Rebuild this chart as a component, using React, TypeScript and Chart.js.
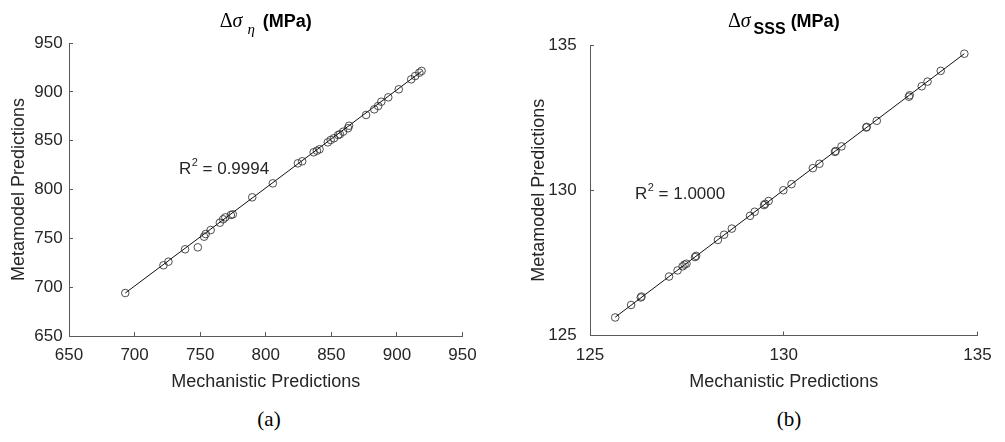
import React, { useEffect, useRef } from "react";
import { Chart, registerables } from "chart.js";

Chart.register(...registerables);

// ---------- data: (a) Δσ_η ----------
const etaMechanistic = [
  692.9, 722.0, 725.8, 738.5, 748.2, 753.0, 754.2, 758.0, 765.0, 767.5, 769.2, 773.4, 774.9,
  789.7, 805.4, 824.5, 827.8, 836.5, 839.0, 841.0, 847.3, 849.5, 852.0, 855.2, 856.5, 859.0,
  862.7, 863.5, 876.5, 882.7, 885.7, 888.1, 893.4, 901.4, 910.9, 913.9, 917.1, 918.8,
];
const etaMetamodel = [
  694.0, 722.4, 726.1, 738.8, 740.8, 751.7, 754.4, 758.5, 766.0, 769.5, 771.5, 773.9, 774.6,
  792.0, 806.3, 826.8, 828.9, 838.1, 839.7, 841.2, 848.3, 850.7, 852.5, 855.8, 856.5, 859.2,
  862.7, 865.3, 876.3, 882.1, 885.5, 889.9, 894.4, 902.6, 912.8, 916.2, 919.6, 921.4,
];
const etaFitX = [692.9, 918.8];
const etaFitY = [694.0, 921.0];
const etaTicks = [650, 700, 750, 800, 850, 900, 950];
const etaR2 = "0.9994";

// ---------- data: (b) Δσ_SSS ----------
const sssMechanistic = [
  125.65, 126.06, 126.31, 126.33, 127.04, 127.26, 127.39, 127.44, 127.49, 127.71, 127.74,
  128.30, 128.46, 128.66, 129.13, 129.25, 129.49, 129.52, 129.61, 129.99, 130.20, 130.75,
  130.92, 131.32, 131.34, 131.49, 132.13, 132.14, 132.40, 133.23, 133.25, 133.56, 133.71,
  134.05, 134.66,
];
const sssMetamodel = [
  125.62, 126.05, 126.31, 126.34, 127.03, 127.24, 127.38, 127.44, 127.47, 127.70, 127.74,
  128.29, 128.47, 128.68, 129.12, 129.26, 129.49, 129.53, 129.63, 130.00, 130.21, 130.76,
  130.91, 131.32, 131.35, 131.51, 132.16, 132.18, 132.39, 133.22, 133.27, 133.58, 133.74,
  134.11, 134.70,
];
const sssFitX = [125.65, 134.66];
const sssFitY = [125.63, 134.70];
const sssTicks = [125, 130, 135];
const sssR2 = "1.0000";

const SANS = '"Liberation Sans", Arial, sans-serif';
const SERIF = '"Liberation Serif", "Times New Roman", serif';
const AXIS = "#5a5a5a";
const TEXT = "#262626";

type Part = { text: string; font: string; dy?: number; gap?: number };

const richTextPlugin = {
  id: "richText",
  afterDraw(chart: any, _args: any, opts: any) {
    const ctx = chart.ctx as CanvasRenderingContext2D;
    const ca = chart.chartArea;
    ctx.save();
    // title
    const parts: Part[] = opts.title || [];
    let total = 0;
    const widths = parts.map((p) => {
      ctx.font = p.font;
      const w = ctx.measureText(p.text).width + (p.gap || 0);
      total += w;
      return w;
    });
    let x = (ca.left + ca.right) / 2 - total / 2;
    ctx.fillStyle = "#000";
    ctx.textBaseline = "alphabetic";
    ctx.textAlign = "left";
    parts.forEach((p, i) => {
      ctx.font = p.font;
      ctx.fillText(p.text, x, opts.titleBaseline + (p.dy || 0));
      x += widths[i];
    });
    // R^2 annotation
    if (opts.r2) {
      const px = chart.scales.x.getPixelForValue(opts.r2.x);
      const py = chart.scales.y.getPixelForValue(opts.r2.y);
      ctx.fillStyle = TEXT;
      ctx.textBaseline = "alphabetic";
      const base = py + 6;
      ctx.font = `17px ${SANS}`;
      ctx.fillText("R", px, base);
      let cx = px + ctx.measureText("R").width;
      ctx.font = `11px ${SANS}`;
      ctx.fillText("2", cx + 0.5, base - 8);
      cx += ctx.measureText("2").width + 0.5;
      ctx.font = `17px ${SANS}`;
      ctx.fillText(" = " + opts.r2.text, cx, base);
    }
    ctx.restore();
  },
};

function makeConfig(p: {
  mech: number[];
  meta: number[];
  fitX: number[];
  fitY: number[];
  ticks: number[];
  padTop: number;
  padRight: number;
  yWidth: number;
  xHeight: number;
  yTitlePad: number;
  yTickPad: number;
  title: Part[];
  r2: { x: number; y: number; text: string };
}) {
  const min = p.ticks[0];
  const max = p.ticks[p.ticks.length - 1];
  const tickFont = { family: SANS, size: 17 };
  const titleFont = { family: SANS, size: 18 };
  return {
    type: "scatter" as const,
    data: {
      datasets: [
        {
          data: p.mech.map((v, i) => ({ x: v, y: p.meta[i] })),
          showLine: false,
          pointStyle: "circle",
          pointRadius: 3.8,
          pointBorderWidth: 0.9,
          pointBorderColor: "#3a3a3a",
          pointBackgroundColor: "rgba(0,0,0,0)",
          order: 2,
        },
        {
          data: p.fitX.map((v, i) => ({ x: v, y: p.fitY[i] })),
          showLine: true,
          borderColor: "#111",
          borderWidth: 1,
          pointRadius: 0,
          order: 1,
        },
      ],
    },
    options: {
      animation: false,
      responsive: false,
      events: [],
      layout: { padding: { top: p.padTop, right: p.padRight, left: 0, bottom: 0 } },
      plugins: {
        legend: { display: false },
        tooltip: { enabled: false },
        richText: { title: p.title, titleBaseline: 27, r2: p.r2 },
      },
      scales: {
        x: {
          type: "linear",
          min,
          max,
          afterBuildTicks: (s: any) => {
            s.ticks = p.ticks.map((v) => ({ value: v }));
          },
          afterFit: (s: any) => {
            s.height = p.xHeight;
          },
          grid: { drawOnChartArea: false, drawTicks: true, tickLength: -4, color: AXIS, lineWidth: 1 },
          border: { display: true, color: AXIS, width: 1 },
          ticks: { color: TEXT, font: tickFont, padding: 13.3, maxRotation: 0, autoSkip: false },
          title: {
            display: true,
            text: "Mechanistic Predictions",
            color: TEXT,
            font: titleFont,
            padding: { top: 0, bottom: 7.5 },
          },
        },
        y: {
          type: "linear",
          min,
          max,
          afterBuildTicks: (s: any) => {
            s.ticks = p.ticks.map((v) => ({ value: v }));
          },
          afterFit: (s: any) => {
            s.width = p.yWidth;
          },
          grid: { drawOnChartArea: false, drawTicks: true, tickLength: -4, color: AXIS, lineWidth: 1 },
          border: { display: true, color: AXIS, width: 1 },
          ticks: { color: TEXT, font: tickFont, padding: p.yTickPad, autoSkip: false },
          title: {
            display: true,
            text: "Metamodel Predictions",
            color: TEXT,
            font: titleFont,
            padding: { top: p.yTitlePad, bottom: 0 },
          },
        },
      },
    },
    plugins: [richTextPlugin],
  };
}

function Plot({ cfg, left, width }: { cfg: any; left: number; width: number }) {
  const ref = useRef<HTMLCanvasElement>(null);
  useEffect(() => {
    if (!ref.current) return;
    const chart = new Chart(ref.current, cfg);
    return () => chart.destroy();
  }, [cfg]);
  return (
    <canvas
      ref={ref}
      width={width}
      height={400}
      style={{ position: "absolute", left, top: 0, width, height: 400 }}
    />
  );
}

const leftCfg = makeConfig({
  mech: etaMechanistic,
  meta: etaMetamodel,
  fitX: etaFitX,
  fitY: etaFitY,
  ticks: etaTicks,
  padTop: 43,
  padRight: 20,
  yWidth: 69,
  xHeight: 64,
  yTitlePad: 8.5,
  yTickPad: 10.3,
  title: [
    { text: "Δ", font: `20px ${SERIF}` },
    { text: "σ", font: `italic 20px ${SERIF}`, gap: 5 },
    { text: "η", font: `italic 15px ${SERIF}`, dy: 7, gap: 8 },
    { text: "(MPa)", font: `bold 18px ${SANS}` },
  ],
  r2: { x: 733.8, y: 822.3, text: etaR2 },
});

const rightCfg = makeConfig({
  mech: sssMechanistic,
  meta: sssMetamodel,
  fitX: sssFitX,
  fitY: sssFitY,
  ticks: sssTicks,
  padTop: 45,
  padRight: 17,
  yWidth: 90,
  xHeight: 64.5,
  yTitlePad: 28.2,
  yTickPad: 17.3,
  title: [
    { text: "Δ", font: `20px ${SERIF}` },
    { text: "σ", font: `italic 20px ${SERIF}`, gap: 3 },
    { text: "SSS", font: `bold 16px ${SANS}`, dy: 7, gap: 5 },
    { text: "(MPa)", font: `bold 18px ${SANS}` },
  ],
  r2: { x: 126.16, y: 129.92, text: sssR2 },
});

export default function App() {
  const caption: React.CSSProperties = {
    position: "absolute",
    top: 406,
    width: 60,
    textAlign: "center",
    fontFamily: SERIF,
    fontSize: 21,
    color: "#000",
    lineHeight: "26px",
  };
  return (
    <div style={{ position: "absolute", left: 0, top: 0, width: 1005, height: 442, background: "#fff" }}>
      <Plot cfg={leftCfg} left={0} width={490} />
      <Plot cfg={rightCfg} left={500} width={505} />
      <div style={{ ...caption, left: 269 - 30 }}>(a)</div>
      <div style={{ ...caption, left: 789 - 30 }}>(b)</div>
    </div>
  );
}
